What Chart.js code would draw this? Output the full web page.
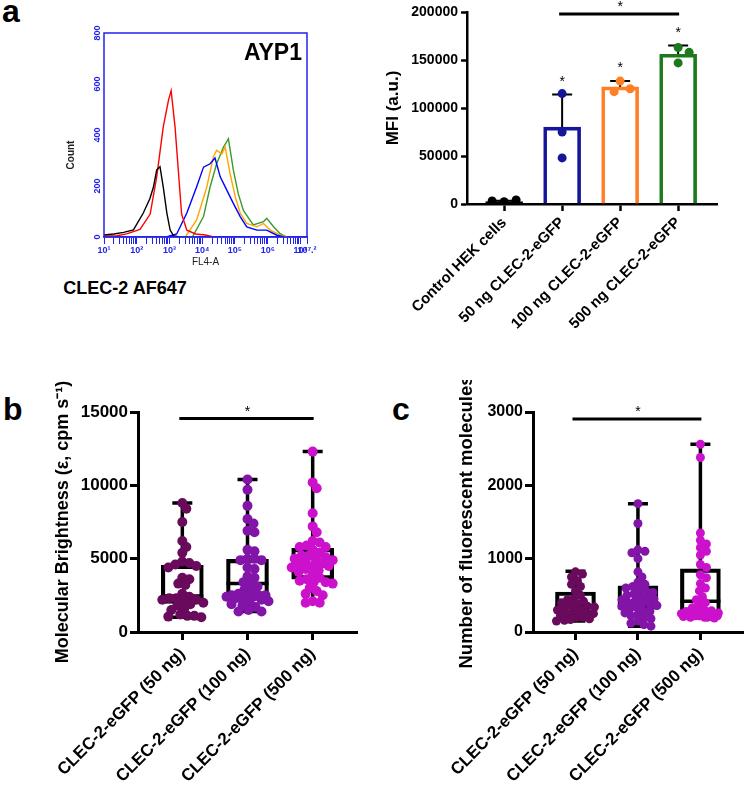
<!DOCTYPE html>
<html>
<head>
<meta charset="utf-8">
<script src="https://cdn.jsdelivr.net/npm/chart.js@4.4.1/dist/chart.umd.min.js"></script>
<style>
body { margin: 0; background: #fff; width: 748px; height: 786px; position: relative; overflow: hidden; font-family: "Liberation Sans", Arial, sans-serif; }
canvas { position: absolute; }
.lbl { position: absolute; font-weight: bold; line-height: 1; color: #000; white-space: nowrap; }
</style>
</head>
<body>
<div class="lbl" style="left:2px;top:-5px;font-size:32px">a</div>
<div class="lbl" style="left:3px;top:393px;font-size:32px">b</div>
<div class="lbl" style="left:392px;top:393px;font-size:32px">c</div>
<div class="lbl" style="left:0;width:250px;text-align:center;top:279px;font-size:18px">CLEC-2 AF647</div>

<canvas id="hist" width="290" height="285" style="left:40px;top:0"></canvas>
<canvas id="bars" width="408" height="390" style="left:340px;top:0"></canvas>
<canvas id="boxB" width="372" height="406" style="left:0;top:380px"></canvas>
<canvas id="boxC" width="376" height="406" style="left:372px;top:380px"></canvas>

<script>
const FONT = '"Liberation Sans", Arial, sans-serif';
Chart.defaults.font.family = FONT;
Chart.defaults.color = '#000';
Chart.defaults.animation = false;
Chart.defaults.plugins.legend.display = false;
Chart.defaults.plugins.tooltip.enabled = false;

// ---------- panel a : flow histogram (x = log10 FL4-A) ----------
const BLUE = '#2222ee';
const histYTicks = [0, 200, 400, 600, 800];
const blackX = [1.0, 1.3, 1.6, 1.9, 2.2, 2.4, 2.51, 2.61, 2.71, 2.81, 2.92, 3.02, 3.12, 3.3];
const blackY = [8, 12, 18, 28, 94, 150, 196, 263, 276, 196, 94, 27, 5, 0];
const redX = [1.0, 1.4, 1.69, 2.1, 2.41, 2.61, 2.81, 2.97, 3.05, 3.17, 3.27, 3.37, 3.53, 3.8, 4.1, 4.35];
const redY = [3, 5, 12, 30, 90, 236, 432, 537, 574, 432, 261, 90, 27, 12, 8, 0];
const blueX = [2.9, 3.22, 3.53, 3.83, 4.04, 4.24, 4.39, 4.55, 4.75, 4.95, 5.16, 5.36, 5.67, 5.97, 6.28, 6.5];
const blueY = [0, 12, 94, 197, 274, 287, 310, 236, 184, 132, 80, 40, 27, 27, 7, 0];
const orangeX = [3.5, 3.83, 4.14, 4.34, 4.44, 4.6, 4.7, 4.85, 5.01, 5.16, 5.36, 5.67, 5.87, 6.08, 6.38, 6.6];
const orangeY = [3, 67, 196, 314, 340, 326, 353, 249, 157, 94, 53, 40, 53, 27, 7, 0];
const greenX = [3.7, 4.04, 4.24, 4.44, 4.65, 4.8, 4.95, 5.1, 5.26, 5.56, 5.87, 5.97, 6.18, 6.38, 6.58];
const greenY = [0, 80, 196, 287, 353, 385, 263, 170, 103, 47, 60, 73, 40, 13, 0];

// ---------- panel a : MFI bar chart ----------
const groupsA = ['Control HEK cells', '50 ng CLEC-2-eGFP', '100 ng CLEC-2-eGFP', '500 ng CLEC-2-eGFP'];
const meanA = [2500, 80000, 122000, 156000];
const sdA = [900, 34000, 6000, 9000];
const ptsControl = [2400, 4200, 3100];
const pts50 = [115000, 75000, 48000];
const pts100 = [128000, 120000, 117000];
const pts500 = [163000, 158000, 147000];
const colorsA = ['#000000', '#16169a', '#ff7f27', '#1c7a1c'];
const starA = [false, true, true, true];

// ---------- panel b / c : box plots ----------
const groupsBC = ['CLEC-2-eGFP (50 ng)', 'CLEC-2-eGFP (100 ng)', 'CLEC-2-eGFP (500 ng)'];
const colorsBC = ['#6a0a5c', '#8214a8', '#cc11cc'];

const brightness50 = [8800, 8400, 7500, 6200, 5800, 5400, 4800, 4700, 4600, 4500, 4400, 3700, 3600, 3300, 3200, 2600, 2400, 2300, 2300, 2200, 2200, 2100, 2000, 1900, 1800, 1600, 1500, 1200, 1100, 1100, 1050, 1000];
const brightness100 = [10400, 9700, 8600, 7700, 7400, 6900, 6800, 5600, 5500, 5000, 5000, 4900, 4900, 4400, 4300, 3800, 3700, 3400, 3200, 3100, 2900, 2700, 2600, 2500, 2500, 2500, 2400, 2400, 2400, 2300, 2300, 2200, 2100, 2000, 1900, 1800, 1700, 1500, 1400, 1400];
const brightness500 = [12300, 10200, 9800, 8100, 7200, 6800, 6200, 6100, 5900, 5800, 5800, 5600, 5400, 5200, 5200, 5100, 5000, 5000, 4900, 4800, 4700, 4600, 4500, 4500, 4400, 4300, 4200, 4100, 3900, 3700, 3600, 3500, 3400, 3400, 3300, 3000, 2800, 2600, 2500, 2100, 2000, 2000];
const minB = [1000, 1400, 2000];
const q1B = [1950, 2500, 3600];
const medB = [2450, 3300, 4500];
const q3B = [4550, 4950, 5700];
const maxB = [8800, 10400, 12300];

const molecules50 = [820, 790, 750, 700, 650, 620, 560, 500, 460, 440, 420, 400, 380, 360, 350, 340, 320, 300, 300, 280, 260, 250, 240, 220, 200, 200, 180, 170, 160, 150];
const molecules100 = [1750, 1480, 1120, 1100, 1080, 1000, 820, 750, 680, 650, 620, 600, 580, 560, 540, 520, 500, 480, 460, 450, 440, 420, 400, 390, 380, 360, 350, 340, 320, 300, 280, 260, 240, 220, 200, 180, 150, 120, 100, 80];
const molecules500 = [2560, 2380, 1350, 1250, 1200, 1150, 1100, 1050, 920, 880, 780, 740, 660, 600, 560, 480, 440, 400, 360, 330, 300, 290, 280, 270, 260, 250, 250, 240, 240, 230, 230, 220, 220, 220, 210, 210, 200, 200, 200, 190];
const minC = [150, 80, 190];
const q1C = [245, 310, 230];
const medC = [355, 380, 420];
const q3C = [545, 630, 860];
const maxC = [830, 1750, 2560];

// ---------- helpers ----------
const sup = {1: '¹', 2: '²', 3: '³', 4: '⁴', 5: '⁵', 6: '⁶', 7: '⁷'};

// spread points of close value sideways (beeswarm), in pixels of the chart's own scales,
// kept within +/- limit px of the category centre
function swarm(chart, groups, minDist, limit) {
    const xs = chart.scales.x, ys = chart.scales.y;
    return groups.map(function(vals, gi) {
        const cx = xs.getPixelForValue(gi);
        const placed = [];
        return vals.map(function(v) {
            const py = ys.getPixelForValue(v);
            let off = null, bestOff = 0, bestScore = -1;
            for (let k = 0; k <= 2 * limit; k++) {
                const cand = k === 0 ? 0 : (k % 2 ? 1 : -1) * Math.ceil(k / 2);
                let score = Infinity;
                placed.forEach(p => { score = Math.min(score, Math.hypot(p.x - cand, p.y - py)); });
                if (score >= minDist) { off = cand; break; }
                if (score > bestScore) { bestScore = score; bestOff = cand; }
            }
            if (off === null) off = bestOff;
            placed.push({x: off, y: py});
            return {x: xs.getValueForPixel(cx + off), y: v};
        });
    });
}

function sigLine(ctx, chart, from, to, value) {
    const xs = chart.scales.x, ys = chart.scales.y;
    const y = ys.getPixelForValue(value);
    ctx.save();
    ctx.strokeStyle = '#000';
    ctx.lineWidth = 3;
    ctx.beginPath();
    ctx.moveTo(xs.getPixelForValue(from) - 3, y);
    ctx.lineTo(xs.getPixelForValue(to) + 1, y);
    ctx.stroke();
    ctx.fillStyle = '#000';
    ctx.font = '14px ' + FONT;
    ctx.textAlign = 'center';
    ctx.fillText('*', (xs.getPixelForValue(from) + xs.getPixelForValue(to)) / 2, y - 3);
    ctx.restore();
}

// ---------- histogram ----------
const histSeries = [
    {x: blackX, y: blackY, c: '#000000'},
    {x: redX, y: redY, c: '#ff0000'},
    {x: blueX, y: blueY, c: '#0000ff'},
    {x: orangeX, y: orangeY, c: '#ffa500'},
    {x: greenX, y: greenY, c: '#3a9a2a'}
];

const histPlugin = {
    id: 'histExtras',
    afterDraw(chart) {
        const ctx = chart.ctx, a = chart.chartArea, ys = chart.scales.y;
        ctx.save();
        ctx.strokeStyle = BLUE;
        ctx.lineWidth = 1.5;
        ctx.strokeRect(a.left, a.top, a.right - a.left, a.bottom - a.top);
        ctx.fillStyle = BLUE;
        ctx.font = 'bold 9px ' + FONT;
        ctx.textAlign = 'center';
        ctx.textBaseline = 'middle';
        histYTicks.forEach(function(v) {
            ctx.save();
            ctx.translate(a.left - 6, ys.getPixelForValue(v));
            ctx.rotate(-Math.PI / 2);
            ctx.fillText(String(v), 0, 0);
            ctx.restore();
        });
        ctx.fillStyle = '#222';
        ctx.font = 'bold 10px ' + FONT;
        ctx.save();
        ctx.translate(31, (a.top + a.bottom) / 2 + 20);
        ctx.rotate(-Math.PI / 2);
        ctx.fillText('Count', 0, 0);
        ctx.restore();
        ctx.fillStyle = '#000';
        ctx.font = 'bold 23px ' + FONT;
        ctx.textAlign = 'right';
        ctx.textBaseline = 'alphabetic';
        ctx.fillText('AYP1', a.right - 5, a.top + 27);
        ctx.restore();
    }
};

new Chart(document.getElementById('hist'), {
    type: 'scatter',
    data: {
        datasets: histSeries.map(s => ({
            data: s.x.map((v, i) => ({x: v, y: s.y[i]})),
            showLine: true, borderColor: s.c, borderWidth: 1.4, pointRadius: 0
        }))
    },
    options: {
        responsive: false,
        layout: {padding: {left: 4, top: 33, right: 23, bottom: 17}},
        scales: {
            x: {
                type: 'linear', min: 1, max: 7.2,
                afterBuildTicks(s) {
                    const t = [];
                    for (let n = 1; n <= 7; n++) {
                        for (let k = 1; k <= 9; k++) {
                            const v = n + Math.log10(k);
                            if (v <= 7.2) t.push({value: v});
                        }
                    }
                    t.push({value: 7.2});
                    s.ticks = t;
                },
                afterFit(s) { s.height = 31; },
                ticks: {
                    autoSkip: false, maxRotation: 0, minRotation: 0, color: BLUE, padding: 1,
                    font: {size: 9, weight: 'bold'},
                    callback(v) {
                        if (Math.abs(v - 7.2) < 1e-6) return '10⁷.²';
                        if (Math.abs(v - Math.round(v)) < 1e-9) return '10' + sup[Math.round(v)];
                        return '';
                    }
                },
                grid: {drawOnChartArea: false, color: BLUE, tickLength: 7, lineWidth: 1},
                border: {color: BLUE, width: 1.5},
                title: {display: true, text: 'FL4-A', font: {size: 10}, color: '#222', padding: 0}
            },
            y: {
                min: 0, max: 800,
                ticks: {display: false, stepSize: 200},
                grid: {display: false},
                border: {display: false},
                afterFit(s) { s.width = 60; }
            }
        }
    },
    plugins: [histPlugin]
});

// ---------- MFI bar chart ----------
const ptsA = [ptsControl, pts50, pts100, pts500];

const barPlugin = {
    id: 'barExtras',
    beforeDatasetsDraw(chart) {
        const ctx = chart.ctx, xs = chart.scales.x, ys = chart.scales.y;
        ctx.save();
        ctx.strokeStyle = '#000';
        ctx.lineWidth = 2;
        meanA.forEach(function(m, i) {
            const x = xs.getPixelForValue(i);
            const y0 = ys.getPixelForValue(m), y1 = ys.getPixelForValue(m + sdA[i]);
            ctx.beginPath();
            ctx.moveTo(x, y0); ctx.lineTo(x, y1);
            ctx.moveTo(x - 10, y1); ctx.lineTo(x + 10, y1);
            ctx.stroke();
        });
        ctx.restore();
    },
    afterDraw(chart) {
        const ctx = chart.ctx, xs = chart.scales.x, ys = chart.scales.y;
        ctx.save();
        ctx.fillStyle = '#000';
        ctx.font = '14px ' + FONT;
        ctx.textAlign = 'center';
        meanA.forEach(function(m, i) {
            if (!starA[i]) return;
            ctx.fillText('*', xs.getPixelForValue(i), ys.getPixelForValue(m + sdA[i]) - 9);
        });
        ctx.restore();
        sigLine(ctx, chart, 1, 3, 198000);
    }
};

const barChart = new Chart(document.getElementById('bars'), {
    type: 'bar',
    data: {
        datasets: [
            {
                type: 'bar', data: meanA.map((m, i) => ({x: i, y: m})),
                backgroundColor: 'rgba(255,255,255,0)', borderColor: colorsA, borderWidth: 3,
                barThickness: 37, order: 5
            }
        ].concat(ptsA.map((g, i) => ({
            type: 'scatter', data: g.map(v => ({x: i, y: v})),
            backgroundColor: colorsA[i], pointRadius: 4.5, pointBorderWidth: 0, order: 1
        })))
    },
    options: {
        responsive: false,
        layout: {padding: {left: 43, top: 12, right: 31, bottom: 0}},
        scales: {
            x: {
                type: 'linear', min: -0.64, max: 3.67, offset: false,
                afterBuildTicks(s) { s.ticks = groupsA.map((g, i) => ({value: i})); },
                afterFit(s) { s.height = 186; },
                ticks: {
                    autoSkip: false, minRotation: 45, maxRotation: 45, padding: 3,
                    font: {size: 15, weight: 'bold'},
                    callback(v) { return groupsA[v]; }
                },
                grid: {drawOnChartArea: false, offset: false, tickLength: 7, tickWidth: 2.5, tickColor: '#000', color: '#000'},
                border: {color: '#000', width: 2.5}
            },
            y: {
                min: 0, max: 200000,
                afterFit(s) { s.width = 84; },
                ticks: {stepSize: 50000, padding: 3, font: {size: 14, weight: 'bold'}, callback: v => String(v)},
                grid: {drawOnChartArea: false, tickLength: 6, tickWidth: 2.5, tickColor: '#000', color: '#000'},
                border: {color: '#000', width: 2.5},
                title: {display: true, text: 'MFI (a.u.)', font: {size: 17, weight: 'bold'}, padding: 0}
            }
        }
    },
    plugins: [barPlugin]
});
swarm(barChart, ptsA, 12, 16).forEach((d, i) => { barChart.data.datasets[i + 1].data = d; });
barChart.update();

// ---------- box plots ----------
function boxChart(id, o) {
    const plugin = {
        id: 'boxExtras_' + id,
        beforeDatasetsDraw(chart) {
            const ctx = chart.ctx, xs = chart.scales.x, ys = chart.scales.y;
            ctx.save();
            ctx.strokeStyle = '#000';
            ctx.lineWidth = 3.5;
            o.q1.forEach(function(q, i) {
                const x = xs.getPixelForValue(i);
                const half = o.boxW / 2;
                ctx.beginPath();
                ctx.moveTo(x, ys.getPixelForValue(o.q3[i])); ctx.lineTo(x, ys.getPixelForValue(o.max[i]));
                ctx.moveTo(x, ys.getPixelForValue(q)); ctx.lineTo(x, ys.getPixelForValue(o.min[i]));
                ctx.moveTo(x - 10, ys.getPixelForValue(o.max[i])); ctx.lineTo(x + 10, ys.getPixelForValue(o.max[i]));
                ctx.moveTo(x - 10, ys.getPixelForValue(o.min[i])); ctx.lineTo(x + 10, ys.getPixelForValue(o.min[i]));
                ctx.moveTo(x - half, ys.getPixelForValue(o.med[i])); ctx.lineTo(x + half, ys.getPixelForValue(o.med[i]));
                ctx.stroke();
            });
            ctx.restore();
        },
        afterDraw(chart) {
            sigLine(chart.ctx, chart, 0, 2, o.sig);
        }
    };
    const chart = new Chart(document.getElementById(id), {
        type: 'bar',
        data: {
            datasets: [
                {
                    type: 'bar', data: o.q1.map((q, i) => ({x: i, y: [q, o.q3[i]]})),
                    backgroundColor: 'rgba(255,255,255,0)', borderColor: '#000', borderWidth: 3.5,
                    borderSkipped: false, barThickness: o.boxW, order: 5
                }
            ].concat(o.groups.map((g, i) => ({
                type: 'scatter', data: g.map(v => ({x: i, y: v})),
                backgroundColor: colorsBC[i], pointRadius: o.r, pointBorderWidth: 0, order: 1
            })))
        },
        options: {
            responsive: false,
            layout: {padding: {left: o.padL, top: 32, right: o.padR, bottom: 0}},
            scales: {
                x: {
                    type: 'linear', min: -0.68, max: o.xMax, offset: false,
                    afterBuildTicks(s) { s.ticks = groupsBC.map((g, i) => ({value: i})); },
                    afterFit(s) { s.height = 154; },
                    ticks: {
                        autoSkip: false, minRotation: 45, maxRotation: 45, padding: 4,
                        font: {size: 17, weight: 'bold'},
                        callback(v) { return groupsBC[v]; }
                    },
                    grid: {drawOnChartArea: false, offset: false, tickLength: 8, tickWidth: 3, tickColor: '#000', color: '#000'},
                    border: {color: '#000', width: 3}
                },
                y: {
                    min: 0, max: o.yMax,
                    afterFit(s) { s.width = o.yW; },
                    ticks: {stepSize: o.step, padding: 2, font: {size: o.tickSize, weight: 'bold'}, callback: v => String(v)},
                    grid: {drawOnChartArea: false, tickLength: 8, tickWidth: 3, tickColor: '#000', color: '#000'},
                    border: {color: '#000', width: 3},
                    title: {display: true, text: o.title, font: {size: o.titleSize, weight: 'bold'}, padding: 0}
                }
            }
        },
        plugins: [plugin]
    });
    swarm(chart, o.groups, o.dist, o.limit).forEach((d, i) => { chart.data.datasets[i + 1].data = d; });
    chart.update();
    return chart;
}

boxChart('boxB', {
    groups: [brightness50, brightness100, brightness500],
    min: minB, q1: q1B, med: medB, q3: q3B, max: maxB,
    yMax: 15000, step: 5000, sig: 14550,
    title: 'Molecular Brightness (ε, cpm s⁻¹)', titleSize: 18, tickSize: 17,
    padL: 52, yW: 86, padR: 15, xMax: 2.68, boxW: 42, r: 5, dist: 7, limit: 21
});

boxChart('boxC', {
    groups: [molecules50, molecules100, molecules500],
    min: minC, q1: q1C, med: medC, q3: q3C, max: maxC,
    yMax: 3000, step: 1000, sig: 2905,
    title: 'Number of fluorescent molecules', titleSize: 18.5, tickSize: 16,
    padL: 84, yW: 77, padR: 2, xMax: 2.69, boxW: 40, r: 4.5, dist: 6.5, limit: 19
});
</script>
</body>
</html>
